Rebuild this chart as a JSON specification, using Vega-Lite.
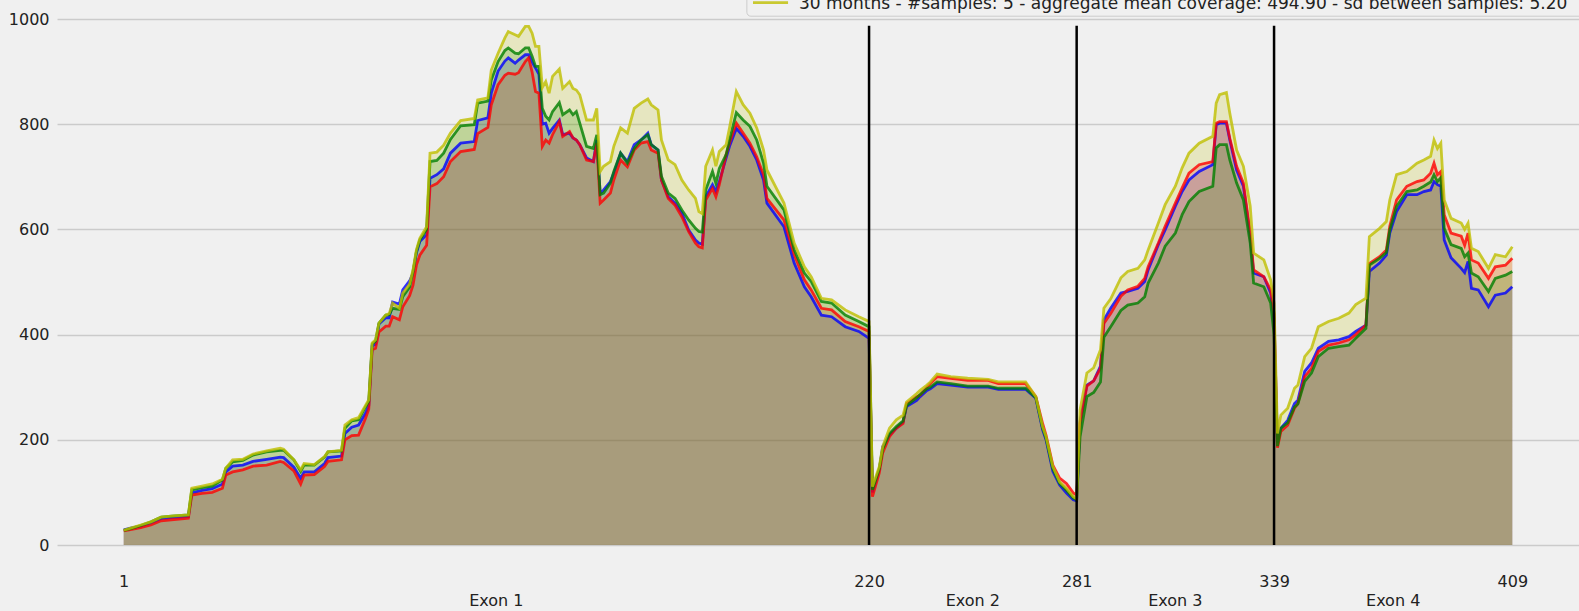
{
  "$schema": "https://vega.github.io/schema/vega-lite/v6.json",
  "width": 1522,
  "height": 526,
  "autosize": {"type": "none"},
  "padding": {"left": 57, "top": 19, "right": 0, "bottom": 66},
  "background": "#f0f0f0",
  "config": {"view": {"stroke": null}, "font": "DejaVu Sans"},
  "datasets": {
    "coverage": [
      {"p":1,"r":27,"b":29,"g":28,"y":28},{"p":3,"r":29,"b":32,"g":31,"y":32},{"p":6,"r":33,"b":36,"g":37,"y":38},
      {"p":9,"r":38,"b":42,"g":44,"y":44},{"p":12,"r":46,"b":50,"g":53,"y":53},{"p":15,"r":48,"b":52,"g":55,"y":55},
      {"p":20,"r":51,"b":54,"g":57,"y":57},{"p":21,"r":95,"b":99,"g":105,"y":108},{"p":24,"r":98,"b":104,"g":109,"y":112},
      {"p":27,"r":100,"b":107,"g":112,"y":116},{"p":30,"r":108,"b":116,"g":124,"y":125},{"p":31,"r":133,"b":139,"g":146,"y":146},
      {"p":33,"r":139,"b":150,"g":158,"y":162},{"p":36,"r":143,"b":152,"g":161,"y":163},{"p":39,"r":150,"b":159,"g":171,"y":173},
      {"p":43,"r":152,"b":163,"g":177,"y":179},{"p":47,"r":159,"b":167,"g":180,"y":184},{"p":48,"r":157,"b":166,"g":180,"y":182},
      {"p":51,"r":141,"b":148,"g":162,"y":162},{"p":53,"r":116,"b":127,"g":140,"y":143},{"p":54,"r":133,"b":139,"g":152,"y":155},
      {"p":57,"r":134,"b":139,"g":152,"y":153},{"p":60,"r":149,"b":155,"g":167,"y":168},{"p":61,"r":159,"b":166,"g":177,"y":177},
      {"p":65,"r":162,"b":169,"g":179,"y":180},{"p":66,"r":200,"b":212,"g":222,"y":228},{"p":68,"r":208,"b":224,"g":236,"y":238},
      {"p":70,"r":209,"b":228,"g":238,"y":242},{"p":72,"r":240,"b":250,"g":262,"y":265},{"p":73,"r":258,"b":265,"g":273,"y":276},
      {"p":74,"r":371,"b":378,"g":382,"y":384},{"p":75,"r":374,"b":382,"g":388,"y":390},{"p":76,"r":405,"b":420,"g":422,"y":422},
      {"p":78,"r":416,"b":432,"g":437,"y":437},{"p":79,"r":416,"b":432,"g":438,"y":440},{"p":80,"r":434,"b":462,"g":450,"y":460},
      {"p":82,"r":428,"b":458,"g":448,"y":450},{"p":83,"r":453,"b":485,"g":472,"y":479},{"p":85,"r":474,"b":502,"g":490,"y":496},
      {"p":86,"r":494,"b":517,"g":520,"y":523},{"p":87,"r":532,"b":555,"g":558,"y":561},{"p":88,"r":551,"b":577,"g":580,"y":583},
      {"p":90,"r":570,"b":590,"g":600,"y":605},{"p":91,"r":681,"b":697,"g":729,"y":745},{"p":93,"r":687,"b":704,"g":731,"y":747},
      {"p":95,"r":700,"b":715,"g":745,"y":760},{"p":97,"r":729,"b":745,"g":771,"y":783},{"p":100,"r":748,"b":764,"g":797,"y":807},
      {"p":104,"r":752,"b":767,"g":799,"y":811},{"p":105,"r":782,"b":807,"g":840,"y":846},{"p":108,"r":794,"b":812,"g":844,"y":850},
      {"p":109,"r":837,"b":859,"g":884,"y":903},{"p":111,"r":875,"b":901,"g":919,"y":935},{"p":113,"r":893,"b":920,"g":940,"y":964},
      {"p":114,"r":897,"b":926,"g":945,"y":976},{"p":116,"r":895,"b":916,"g":935,"y":970},{"p":117,"r":898,"b":922,"g":934,"y":967},
      {"p":119,"r":919,"b":932,"g":945,"y":986},{"p":120,"r":926,"b":932,"g":945,"y":986},{"p":121,"r":899,"b":918,"g":929,"y":973},
      {"p":122,"r":862,"b":907,"g":910,"y":948},{"p":123,"r":859,"b":895,"g":910,"y":948},{"p":124,"r":758,"b":800,"g":830,"y":870},
      {"p":125,"r":770,"b":802,"g":815,"y":881},{"p":126,"r":764,"b":783,"g":808,"y":859},{"p":127,"r":780,"b":792,"g":824,"y":891},
      {"p":129,"r":805,"b":808,"g":841,"y":905},{"p":130,"r":777,"b":780,"g":818,"y":868},{"p":132,"r":786,"b":783,"g":827,"y":881},
      {"p":133,"r":774,"b":774,"g":818,"y":868},{"p":134,"r":770,"b":770,"g":824,"y":865},{"p":135,"r":761,"b":761,"g":802,"y":856},
      {"p":137,"r":732,"b":736,"g":758,"y":808},{"p":139,"r":729,"b":729,"g":754,"y":808},{"p":140,"r":764,"b":770,"g":780,"y":830},
      {"p":141,"r":650,"b":669,"g":666,"y":710},{"p":142,"r":656,"b":675,"g":669,"y":720},{"p":144,"r":669,"b":691,"g":688,"y":729},
      {"p":145,"r":694,"b":707,"g":710,"y":758},{"p":147,"r":732,"b":745,"g":745,"y":793},{"p":149,"r":719,"b":729,"g":726,"y":783},
      {"p":151,"r":751,"b":761,"g":754,"y":830},{"p":153,"r":764,"b":770,"g":770,"y":840},{"p":155,"r":767,"b":783,"g":780,"y":848},
      {"p":156,"r":751,"b":761,"g":761,"y":837},{"p":158,"r":745,"b":751,"g":751,"y":827},{"p":159,"r":694,"b":694,"g":701,"y":770},
      {"p":161,"r":659,"b":662,"g":669,"y":732},{"p":163,"r":646,"b":650,"g":659,"y":723},{"p":165,"r":624,"b":631,"g":637,"y":694},
      {"p":167,"r":596,"b":599,"g":618,"y":675},{"p":169,"r":574,"b":580,"g":602,"y":659},{"p":170,"r":567,"b":574,"g":596,"y":634},
      {"p":171,"r":565,"b":572,"g":595,"y":630},{"p":172,"r":656,"b":662,"g":675,"y":720},{"p":174,"r":678,"b":685,"g":710,"y":751},
      {"p":175,"r":662,"b":672,"g":688,"y":720},{"p":176,"r":685,"b":691,"g":716,"y":748},{"p":178,"r":742,"b":736,"g":742,"y":761},
      {"p":179,"r":764,"b":758,"g":770,"y":793},{"p":181,"r":802,"b":792,"g":822,"y":862},{"p":183,"r":783,"b":777,"g":808,"y":837},
      {"p":185,"r":764,"b":758,"g":796,"y":821},{"p":187,"r":738,"b":732,"g":770,"y":793},{"p":189,"r":704,"b":694,"g":726,"y":751},
      {"p":190,"r":659,"b":650,"g":682,"y":713},{"p":195,"r":618,"b":605,"g":637,"y":650},{"p":198,"r":552,"b":536,"g":561,"y":574},
      {"p":201,"r":504,"b":491,"g":517,"y":529},{"p":203,"r":485,"b":472,"g":501,"y":510},{"p":206,"r":450,"b":437,"g":463,"y":469},
      {"p":209,"r":447,"b":434,"g":460,"y":466},{"p":213,"r":425,"b":415,"g":437,"y":447},{"p":217,"r":415,"b":406,"g":425,"y":434},
      {"p":220,"r":406,"b":393,"g":415,"y":425},
      {"p":221,"r":92,"b":100,"g":105,"y":111},{"p":223,"r":137,"b":143,"g":145,"y":149},{"p":224,"r":175,"b":187,"g":182,"y":187},
      {"p":226,"r":206,"b":209,"g":212,"y":222},{"p":228,"r":222,"b":222,"g":225,"y":238},{"p":230,"r":231,"b":234,"g":236,"y":247},
      {"p":231,"r":269,"b":263,"g":265,"y":272},{"p":234,"r":282,"b":275,"g":280,"y":288},{"p":235,"r":285,"b":282,"g":286,"y":294},
      {"p":237,"r":300,"b":294,"g":297,"y":304},{"p":238,"r":307,"b":297,"g":300,"y":310},{"p":240,"r":320,"b":307,"g":310,"y":325},
      {"p":244,"r":317,"b":304,"g":307,"y":320},{"p":249,"r":313,"b":300,"g":302,"y":317},{"p":255,"r":313,"b":300,"g":302,"y":315},
      {"p":258,"r":307,"b":296,"g":298,"y":310},{"p":266,"r":307,"b":296,"g":298,"y":310},{"p":269,"r":282,"b":279,"g":280,"y":282},
      {"p":271,"r":231,"b":219,"g":222,"y":225},{"p":272,"r":209,"b":200,"g":203,"y":206},{"p":274,"r":152,"b":140,"g":145,"y":149},
      {"p":276,"r":127,"b":114,"g":117,"y":120},{"p":278,"r":117,"b":99,"g":104,"y":108},{"p":280,"r":99,"b":86,"g":89,"y":92},
      {"p":281,"r":95,"b":84,"g":86,"y":88},
      {"p":282,"r":231,"b":235,"g":206,"y":257},{"p":284,"r":302,"b":304,"g":282,"y":327},{"p":286,"r":312,"b":312,"g":290,"y":337},
      {"p":288,"r":336,"b":340,"g":310,"y":371},{"p":289,"r":421,"b":428,"g":395,"y":450},{"p":291,"r":440,"b":450,"g":415,"y":468},
      {"p":294,"r":473,"b":479,"g":446,"y":508},{"p":296,"r":485,"b":482,"g":456,"y":520},{"p":299,"r":492,"b":488,"g":460,"y":526},
      {"p":301,"r":507,"b":501,"g":472,"y":542},{"p":302,"r":529,"b":523,"g":498,"y":561},{"p":305,"r":574,"b":571,"g":536,"y":612},
      {"p":307,"r":606,"b":599,"g":568,"y":647},{"p":310,"r":650,"b":644,"g":593,"y":682},{"p":312,"r":679,"b":672,"g":628,"y":717},
      {"p":314,"r":707,"b":694,"g":653,"y":745},{"p":317,"r":723,"b":710,"g":672,"y":764},{"p":321,"r":729,"b":723,"g":682,"y":777},
      {"p":322,"r":802,"b":799,"g":755,"y":840},{"p":323,"r":805,"b":802,"g":761,"y":856},{"p":325,"r":805,"b":802,"g":761,"y":860},
      {"p":326,"r":773,"b":770,"g":732,"y":821},{"p":328,"r":720,"b":713,"g":688,"y":751},{"p":330,"r":688,"b":682,"g":656,"y":720},
      {"p":332,"r":593,"b":587,"g":574,"y":644},{"p":333,"r":523,"b":517,"g":498,"y":555},{"p":336,"r":510,"b":510,"g":491,"y":542},
      {"p":338,"r":485,"b":479,"g":460,"y":504},{"p":339,"r":440,"b":430,"g":400,"y":460},
      {"p":340,"r":185,"b":195,"g":188,"y":212},{"p":341,"r":216,"b":222,"g":222,"y":247},{"p":343,"r":228,"b":237,"g":232,"y":260},
      {"p":345,"r":260,"b":269,"g":262,"y":298},{"p":346,"r":269,"b":275,"g":268,"y":304},{"p":348,"r":320,"b":330,"g":311,"y":358},
      {"p":350,"r":336,"b":346,"g":327,"y":374},{"p":352,"r":368,"b":374,"g":358,"y":415},{"p":355,"r":380,"b":387,"g":374,"y":425},
      {"p":358,"r":384,"b":390,"g":377,"y":431},{"p":361,"r":390,"b":396,"g":380,"y":441},{"p":363,"r":400,"b":406,"g":393,"y":457},
      {"p":366,"r":418,"b":418,"g":412,"y":469},{"p":367,"r":535,"b":520,"g":532,"y":586},{"p":370,"r":548,"b":536,"g":545,"y":602},
      {"p":372,"r":561,"b":551,"g":556,"y":615},{"p":373,"r":606,"b":593,"g":599,"y":656},{"p":375,"r":656,"b":634,"g":644,"y":704},
      {"p":378,"r":682,"b":666,"g":672,"y":710},{"p":381,"r":691,"b":666,"g":675,"y":726},{"p":383,"r":694,"b":672,"g":682,"y":732},
      {"p":385,"r":707,"b":675,"g":690,"y":739},{"p":386,"r":726,"b":691,"g":704,"y":770},{"p":387,"r":704,"b":685,"g":691,"y":754},
      {"p":388,"r":710,"b":682,"g":698,"y":764},{"p":389,"r":628,"b":580,"g":602,"y":656},{"p":391,"r":593,"b":546,"g":571,"y":621},
      {"p":394,"r":587,"b":526,"g":564,"y":612},{"p":395,"r":570,"b":518,"g":548,"y":600},{"p":396,"r":593,"b":539,"g":555,"y":612},
      {"p":397,"r":542,"b":488,"g":517,"y":564},{"p":399,"r":536,"b":485,"g":510,"y":558},{"p":402,"r":507,"b":453,"g":482,"y":526},
      {"p":404,"r":529,"b":475,"g":507,"y":552},{"p":407,"r":532,"b":479,"g":513,"y":548},{"p":409,"r":545,"b":491,"g":520,"y":567}
    ]
  },
  "layer": [
    {
      "data": {"name": "coverage"},
      "transform": [{"fold": ["b", "r", "g", "y"], "as": ["series", "value"]}],
      "mark": {"type": "area", "fillOpacity": 0.2},
      "encoding": {
        "x": {"field": "p", "type": "quantitative", "scale": {"domain": [-18.6, 428.6], "nice": false, "zero": false},
              "axis": {"values": [1, 220, 281, 339, 409], "grid": false, "ticks": false, "tickSize": 0, "domain": false,
                       "labelFontSize": 16, "labelColor": "#222222", "labelFont": "DejaVu Sans", "labelPadding": 36,
                       "labelBaseline": "middle", "labelFlush": false, "labelOverlap": false, "format": "d", "title": null}},
        "y": {"field": "value", "type": "quantitative", "stack": null, "scale": {"domain": [0, 1000], "nice": false},
              "axis": {"values": [0, 200, 400, 600, 800, 1000], "grid": true, "gridColor": "#cbcbcb", "gridWidth": 1.3,
                       "ticks": false, "tickSize": 0, "domain": false, "labelFontSize": 16, "labelColor": "#222222",
                       "labelFont": "DejaVu Sans", "labelPadding": 8, "labelFlush": false, "labelOverlap": false, "format": "d", "title": null}},
        "fill": {"field": "series", "type": "nominal",
                 "scale": {"domain": ["b", "r", "g", "y"], "range": ["#0000ff", "#ff0000", "#008000", "#bfbf00"]},
                 "legend": null}
      }
    },
    {
      "data": {"name": "coverage"},
      "transform": [{"fold": ["b", "r", "g", "y"], "as": ["series", "value"]}],
      "mark": {"type": "line", "strokeWidth": 2.8, "opacity": 0.8},
      "encoding": {
        "x": {"field": "p", "type": "quantitative", "title": null},
        "y": {"field": "value", "type": "quantitative", "title": null},
        "color": {"field": "series", "type": "nominal",
                  "scale": {"domain": ["b", "r", "g", "y"], "range": ["#0000ff", "#ff0000", "#008000", "#bfbf00"]},
                  "legend": null}
      }
    },
    {
      "data": {"values": [{"pos": 220}, {"pos": 281}, {"pos": 339}]},
      "mark": {"type": "rule", "color": "#000000", "strokeWidth": 2.5},
      "encoding": {
        "x": {"field": "pos", "type": "quantitative", "title": null},
        "y": {"datum": 0, "type": "quantitative", "title": null},
        "y2": {"datum": 987}
      }
    },
    {
      "data": {"values": [{"label": "Exon 1", "mid": 110.5}, {"label": "Exon 2", "mid": 250.5}, {"label": "Exon 3", "mid": 310}, {"label": "Exon 4", "mid": 374}]},
      "mark": {"type": "text", "dy": 56, "fontSize": 16, "font": "DejaVu Sans", "color": "#222222", "baseline": "middle", "align": "center"},
      "encoding": {
        "x": {"field": "mid", "type": "quantitative", "title": null},
        "y": {"datum": 0, "type": "quantitative", "title": null},
        "text": {"field": "label", "type": "nominal"}
      }
    },
    {
      "data": {"values": [{"entry": "30 months - #samples: 5 - aggregate mean coverage: 494.90 - sd between samples: 5.20"}]},
      "layer": [
        {
          "mark": {"type": "rect", "fill": "#f0f0f0", "fillOpacity": 0.8, "stroke": "#cccccc", "strokeWidth": 1, "cornerRadius": 4},
          "encoding": {
            "x": {"datum": 184.1, "type": "quantitative", "title": null},
            "x2": {"datum": 445},
            "y": {"datum": 1005.3, "type": "quantitative", "title": null},
            "y2": {"datum": 1100}
          }
        },
        {
          "mark": {"type": "rule", "color": "#bfbf00", "opacity": 0.8, "strokeWidth": 2.8},
          "encoding": {
            "x": {"datum": 185.9, "type": "quantitative", "title": null},
            "x2": {"datum": 196.2},
            "y": {"datum": 1031, "type": "quantitative", "title": null}
          }
        },
        {
          "mark": {"type": "text", "fontSize": 17, "font": "DejaVu Sans", "color": "#222222", "align": "left", "baseline": "alphabetic"},
          "encoding": {
            "x": {"datum": 199.4, "type": "quantitative", "title": null},
            "y": {"datum": 1018.5, "type": "quantitative", "title": null},
            "text": {"field": "entry", "type": "nominal"}
          }
        }
      ]
    }
  ]
}
